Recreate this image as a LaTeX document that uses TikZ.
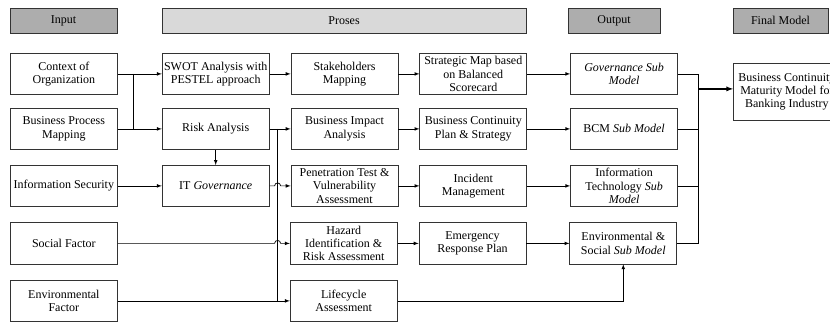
\documentclass[tikz,border=0pt]{standalone}
\usepackage{fontspec}
\setmainfont{Liberation Serif}
\usetikzlibrary{positioning, arrows}

\begin{document}
\begin{tikzpicture}[
	box/.style={draw=black!80,line width=0.8pt,minimum width=107pt,minimum height=41pt,inner sep=0pt,align=center,font=\fontsize{12}{13.2}\selectfont},
	head/.style={draw=black!80,line width=0.8pt,minimum height=25pt,inner sep=0pt,font=\fontsize{12}{13.5}\selectfont},
	node distance=16pt and 21pt,
	>=latex]
	\useasboundingbox (0,0) rectangle (830pt,-323pt);
	\node[head,fill=black!32,minimum width=107pt] (hin) at (63.5pt,-20.5pt) {Input};
	\node[head,fill=black!15,minimum width=364pt] (hpro) at (344pt,-20.5pt) {Proses};
	\node[head,fill=black!32,minimum width=92pt] (hout) at (614pt,-20.5pt) {Output};
	\node[head,fill=black!32,minimum width=95pt] (hfin) at (780.5pt,-20.5pt) {Final Model};
	
	\node[box,anchor=north west] (ctx) at (10pt,-53pt) {Context of\\Organization};
	\node[box,right=44pt of ctx] (swot) {SWOT Analysis with\\PESTEL approach};
	\node[box,right=of swot] (stake) {Stakeholders\\Mapping};
	\node[box,right=of stake] (smap) {Strategic Map based\\on Balanced\\Scorecard};
	\node[box,right=43pt of smap] (gov) {\textit{Governance Sub}\\\textit{Model}};
	\node[box,anchor=north west,minimum height=57pt] (final) at (733pt,-63pt) {Business Continuity\\Maturity Model for\\Banking Industry};
	
	\node[box,anchor=north west] (bpm) at (10pt,-108pt) {Business Process\\Mapping};
	\node[box,right=44pt of bpm] (risk) {Risk Analysis};
	\node[box,right=of risk] (bia) {Business Impact\\Analysis};
	\node[box,right=of bia] (bcp) {Business Continuity\\Plan \& Strategy};
	\node[box,right=43pt of bcp] (bcm) {BCM \textit{Sub Model}};
	
	\node[box,anchor=north west] (infosec) at (10pt,-165pt) {Information Security};
	\node[box,right=44pt of infosec] (itgov) {IT \textit{Governance}};
	\node[box,right=of itgov] (pen) {Penetration Test \&\\Vulnerability\\Assessment};
	\node[box,right=of pen] (incident) {Incident\\Management};
	\node[box,right=43pt of incident] (itsub) {Information\\Technology \textit{Sub}\\\textit{Model}};
	
	\node[box,anchor=north west] (social) at (10pt,-222.5pt) {Social Factor};
	\node[box,right=172pt of social] (hazard) {Hazard\\Identification \&\\Risk Assessment};
	\node[box,right=of hazard] (erp) {Emergency\\Response Plan};
	\node[box,right=43pt of erp] (envsub) {Environmental \&\\Social \textit{Sub Model}};
	
	\node[box,anchor=north west] (envf) at (10pt,-280pt) {Environmental\\Factor};
	\node[box,right=172pt of envf] (life) {Lifecycle\\Assessment};
	
	\coordinate (cbus) at ([xshift=16pt]ctx.east);
	\coordinate (rbus) at ([xshift=8pt]risk.east);
	\coordinate (obus) at ([xshift=20pt]gov.east);
	
	\path[->,line width=0.7pt]
	(ctx) edge (swot)
	(bpm) edge (risk)
	(swot) edge (stake)
	(stake) edge (smap)
	(smap) edge (gov)
	(risk) edge (itgov)
	(risk) edge (bia)
	(infosec) edge (itgov)
	(bia) edge (bcp)
	(bcp) edge (bcm)
	(pen) edge (incident)
	(incident) edge (itsub)
	(hazard) edge (erp)
	(erp) edge (envsub)
	(envf) edge (life)
	;
	\draw[line width=0.7pt] (cbus) -- (cbus |- bpm.east);
	\draw[line width=0.7pt] (rbus) -- (rbus |- life.west);
	\draw[->,line width=0.7pt] (itgov.east) -- ([xshift=-3pt]rbus |- itgov.east) arc[start angle=180,end angle=0,radius=3pt] -- (pen.west);
	\draw[->,line width=0.7pt] (social.east) -- ([xshift=-3pt]rbus |- social.east) arc[start angle=180,end angle=0,radius=3pt] -- (hazard.west);
	\draw[->,line width=0.7pt] (life.east) -| (envsub.south);
	\draw[line width=0.7pt] (gov.east) -- (obus) -- (obus |- envsub.east) -- (envsub.east);
	\draw[line width=0.7pt] (bcm.east) -- (bcm.east -| obus);
	\draw[line width=0.7pt] (itsub.east) -- (itsub.east -| obus);
	\draw[->,line width=1.3pt] ([yshift=3pt]obus |- final.west) -- ([yshift=3pt]final.west);
\end{tikzpicture}
\end{document}
